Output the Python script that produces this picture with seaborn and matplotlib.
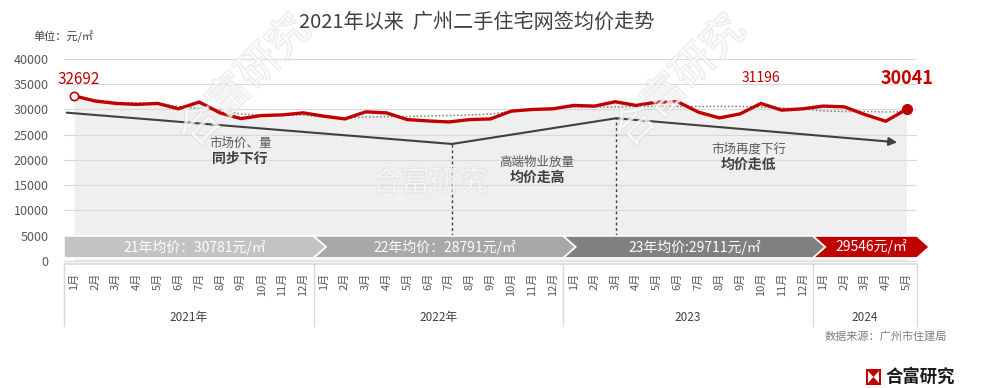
import numpy as np
import pandas as pd
import seaborn as sns
from matplotlib import pyplot as plt
from matplotlib.patches import Polygon, Rectangle
import matplotlib.patheffects as pe

# monthly average signed price, Jan 2021 - May 2024 (元/㎡)
months = [f"{m}月" for m in range(1, 13)] * 3 + [f"{m}月" for m in range(1, 6)]
years = ["2021年", "2022年", "2023", "2024"]
year_sizes = [12, 12, 12, 5]
price = [32692, 31670, 31200, 31000, 31200, 30130, 31470, 29330, 28200, 28800, 28930, 29330,
         28670, 28130, 29530, 29330, 28000, 27730, 27530, 28000, 28130, 29670, 30000, 30130,
         30800, 30670, 31530, 30800, 31470, 31530, 29470, 28330, 29130, 31196, 29870, 30130,
         30670, 30530, 29000, 27670, 30041]
trend_dotted = [np.nan, 31900, 31400, 31300, 31200, 30600, 30200, 29900, 29100, 28900, 28900, 28900,
                28500, 28300, 28500, 28600, 28600, 28700, 28800, 28900, 29100, 29600, 30000, 30300,
                30500, 30500, 30500, 30600, 30600, 30600, 30600, 30600, 30600, 30500, 30300, 30100,
                29700, 29600, 29600, 29500, 29600]
band_labels = ["21年均价：30781元/㎡", "22年均价：28791元/㎡", "23年均价:29711元/㎡", "29546元/㎡"]
band_colors = ["#c3c3c3", "#a8a8a8", "#808080", "#c00000"]
# hand-drawn trend arrow (month index, price)
trend_x = [-0.37, 18.15, 26.04, 39.55]
trend_y = [29370, 23170, 28260, 23500]
notes = [
    (7.97, "市场价、量", "同步下行"),
    (22.24, "高端物业放量", "均价走高"),
    (32.4, "市场再度下行", "均价走低"),
]
notes_y = [23364, 19600, 22175]

df = pd.DataFrame({"idx": range(len(price)), "price": price, "dotted": trend_dotted})

sns.set_theme(style="white")
plt.rcParams['font.family'] = ['Noto Sans CJK SC', 'DejaVu Sans']

fig = plt.figure(figsize=(9.87, 3.88), dpi=100)
ax = fig.add_axes([0.0648, 0.3196, 0.8642, 0.5284])

ax.fill_between(df["idx"], 0, df["price"], color="#efefef", zorder=0.3, lw=0)
sns.lineplot(data=df, x="idx", y="dotted", ax=ax, color="#7f7f7f", lw=1.1,
             linestyle=(0, (1, 1.4)), zorder=2)
sns.lineplot(data=df, x="idx", y="price", ax=ax, color="#c00000", lw=2.4, zorder=3)
ax.plot(0, price[0], "o", ms=6, mfc="white", mec="#c00000", mew=1.2, zorder=4)
ax.plot(len(price) - 1, price[-1], "o", ms=7, color="#c00000", zorder=4)

ax.annotate(f"{price[0]}", (0, price[0]), xytext=(3, 12), textcoords="offset points",
            ha="center", va="center", color="#c00000", fontsize=11)
ax.annotate(f"{price[33]}", (33, price[33]), xytext=(0, 18), textcoords="offset points",
            ha="center", va="center", color="#c00000", fontsize=10)
ax.annotate(f"{price[-1]}", (40, price[-1]), xytext=(0, 22), textcoords="offset points",
            ha="center", va="center", color="#c00000", fontsize=13, fontweight="bold")

# trend arrow and dashed markers
ax.plot(trend_x[:-1], trend_y[:-1], color="#404040", lw=1.5, zorder=2.5)
ax.annotate("", xy=(trend_x[-1], trend_y[-1]), xytext=(trend_x[-2], trend_y[-2]),
            arrowprops=dict(arrowstyle="-|>", color="#404040", lw=1.5, mutation_scale=12,
                            shrinkA=0, shrinkB=0), zorder=2.5)
band_lo, band_hi = 600, 4950
for tx, ty in zip(trend_x[1:3], trend_y[1:3]):
    ax.plot([tx, tx], [band_hi, ty], color="#404040", lw=1, linestyle=(0, (2, 2)))

for (nx, t1, t2), ny in zip(notes, notes_y):
    ax.text(nx, ny, t1, ha="center", va="center", fontsize=9, color="#595959")
    ax.text(nx, ny - 3170, t2, ha="center", va="center", fontsize=10,
            fontweight="bold", color="#404040")

# year chevron bands
bounds = np.concatenate([[0], np.cumsum(year_sizes)]) - 0.5
mid = (band_lo + band_hi) / 2
d = 0.6
for k in range(len(years)):
    x0, x1 = bounds[k], bounds[k + 1]
    pts = [(x0, band_lo), (x1, band_lo), (x1 + d, mid), (x1, band_hi), (x0, band_hi)]
    if k > 0:
        pts.append((x0 + d, mid))
    ax.add_patch(Polygon(pts, closed=True, fc=band_colors[k], ec="white", lw=1.2,
                         zorder=5, clip_on=False))
    ax.text((x0 + x1) / 2 + 0.3, mid, band_labels[k], ha="center", va="center",
            color="white", fontsize=10, zorder=6)

ax.set_xlim(-0.5, 40.5)
ax.set_ylim(-600, 40000)
ax.set_yticks(range(0, 40001, 5000))
ax.set_xticks(range(len(months)))
ax.set_xticklabels(months, rotation=90, fontsize=8, color="#595959")
ax.tick_params(axis="y", length=0, pad=11, labelsize=9, labelcolor="#595959")
ax.tick_params(axis="x", length=0, pad=6)
ax.yaxis.grid(True, color="#d9d9d9", lw=0.8)
ax.set_axisbelow(True)
ax.set_xlabel("")
ax.set_ylabel("")
for s in ["left", "right", "top"]:
    ax.spines[s].set_visible(False)
ax.spines["bottom"].set_color("#d9d9d9")

# year group separators and labels below the month labels
xt = ax.get_xaxis_transform()
for b in bounds:
    ax.plot([b, b], [0, -0.30], color="#d9d9d9", lw=1, transform=xt, clip_on=False)
for k, yl in enumerate(years):
    ax.text((bounds[k] + bounds[k + 1]) / 2, -0.263, yl, transform=xt, ha="center",
            va="center", fontsize=8.5, color="#404040")

# titles and notes
fig.text(0.483, 0.943, "2021年以来  广州二手住宅网签均价走势", ha="center", va="center",
         fontsize=14.5, color="#404040")
fig.text(0.034, 0.905, "单位：元/㎡", ha="left", va="center", fontsize=8, color="#404040")
fig.text(0.897, 0.134, "数据来源：广州市住建局", ha="center", va="center", fontsize=8, color="#7f7f7f")

# watermarks
wm = [pe.withStroke(linewidth=1.4, foreground="#d8d8d8")]
for (wx, wy, rot, fs) in [(245, 82, 45, 30), (680, 82, 45, 30), (430, 183, 0, 21)]:
    fig.text(wx / 987, 1 - wy / 388, "合富研究", ha="center", va="center", rotation=rot,
             fontsize=fs, color="white", alpha=0.5, path_effects=wm, zorder=10)

# logo
fig.patches.append(Rectangle((866 / 987, 1 - 385 / 388), 15 / 987, 16 / 388, fc="#c00000",
                             ec="none", transform=fig.transFigure))
lx0, lx1, ly0, ly1 = 868 / 987, 879 / 987, 1 - 383 / 388, 1 - 371 / 388
fig.patches.append(Polygon([(lx0, ly0), ((lx0 + lx1) / 2, (ly0 + ly1) / 2), (lx0, ly1)],
                           fc="white", ec="none", transform=fig.transFigure))
fig.patches.append(Polygon([(lx1, ly0), ((lx0 + lx1) / 2, (ly0 + ly1) / 2), (lx1, ly1)],
                           fc="white", ec="none", transform=fig.transFigure))
fig.text(885 / 987, 1 - 377 / 388, "合富研究", ha="left", va="center", fontsize=12.5,
         fontweight="bold", color="#1a1a1a")

fig.savefig("out.png", dpi=100, facecolor="white")
